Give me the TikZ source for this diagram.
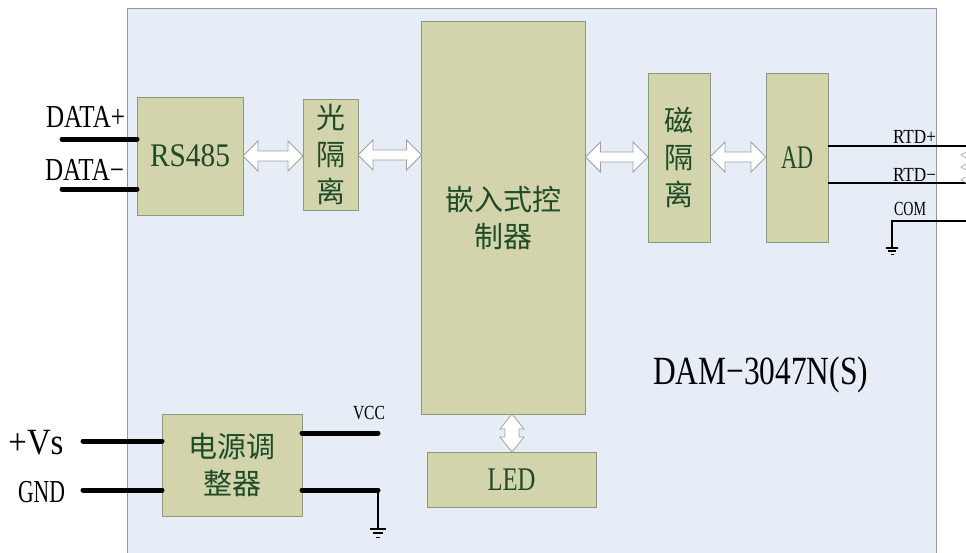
\documentclass[tikz,border=0pt]{standalone}
\usepackage{fontspec}
\usepackage{graphicx}
\setmainfont{Liberation Serif}
\newfontfamily\cjk{Noto Sans CJK SC}
\usetikzlibrary{calc}
\definecolor{bgblue}{RGB}{230,237,247}
\definecolor{boxfill}{RGB}{211,212,171}
\definecolor{boxline}{RGB}{135,155,125}
\definecolor{txtgreen}{RGB}{30,75,40}
\definecolor{framecol}{RGB}{150,150,150}
\definecolor{arrline}{RGB}{160,160,160}
\newcommand\fw[2]{\resizebox{#1pt}{\height}{#2}}
\newcommand\harrow[3]{%
  \coordinate (hs) at (#1.east |- 0,#3);
  \coordinate (he) at (#2.west |- 0,#3);
  \draw[dblarr] (hs) -- ++(15,-15) -- ++(0,10) -- ($(he)+(-15,-5)$) -- ++(0,-10) -- (he)
    -- ++(-15,15) -- ++(0,-10) -- ($(hs)+(15,5)$) -- ++(0,10) -- cycle;}
\begin{document}
\begin{tikzpicture}[x=1pt,y=-1pt,
  blk/.style={draw=boxline, fill=boxfill, line width=1pt, inner sep=0pt, outer sep=0pt, text=txtgreen, align=center},
  lat/.style={font=\fontsize{33}{36}\selectfont},
  zh/.style={font=\cjk\fontsize{29}{37}\selectfont},
  lbl/.style={inner sep=0pt, font=\fontsize{32}{36}\selectfont},
  smalllbl/.style={inner sep=0pt, font=\fontsize{20}{22}\selectfont},
  wire/.style={line width=5pt, line cap=round},
  thinwire/.style={line width=1.2pt},
  dblarr/.style={draw=arrline, fill=white, line width=0.8pt, line join=miter},
  groundsym/.pic={\draw[line width=1.6pt] (-8,0) -- (8,0);
    \draw[line width=1.3pt] (-5,4) -- (5,4);
    \draw[line width=1pt] (-2,8) -- (2,8);}]
\useasboundingbox (0,0) rectangle (966,552);
\fill[white] (0,0) rectangle (966,552);
% outer board
\fill[bgblue] (127,8) rectangle (936,560);
\draw[framecol, line width=1pt] (127,560) -- (127,8) -- (936,8) -- (936,560);
% blocks
\node[blk, lat, minimum width=106, minimum height=118] (rs) at (190,156) {\fw{80}{RS485}};
\node[blk, zh, minimum width=55, minimum height=111] (opt) at (330.5,154.5) {光\\隔\\离};
\node[blk, zh, minimum width=164, minimum height=393] (mcu) at (503.5,217.5) {嵌入式控\\制器};
\node[blk, zh, minimum width=62, minimum height=169] (mag) at (679,157.5) {磁\\隔\\离};
\node[blk, lat, minimum width=62, minimum height=169] (ad) at (797,157.5) {\fw{32}{AD}};
\node[blk, lat, minimum width=169, minimum height=55] (led) at (511.5,479.5) {\fw{48}{LED}};
\node[blk, zh, minimum width=140, minimum height=102] (pwr) at (232,465) {电源调\\整器};
% labels
\node[lbl] (ldp) at (85.5,117) {\fw{79}{DATA+}};
\node[lbl] (ldm) at (84.5,170) {\fw{79}{DATA−}};
\node[lbl, font=\fontsize{37}{40}\selectfont] (lvs) at (36,443) {\fw{55}{+Vs}};
\node[lbl] (lgnd) at (41.5,492) {\fw{47}{GND}};
\node[smalllbl] (lrp) at (914.5,137) {\fw{43}{RTD+}};
\node[smalllbl] (lrm) at (914.5,175) {\fw{43}{RTD−}};
\node[smalllbl] (lcom) at (910,209) {\fw{32}{COM}};
\node[smalllbl] (lvcc) at (369,413) {\fw{32}{VCC}};
\node[inner sep=0pt, font=\fontsize{40}{44}\selectfont] (model) at (760.5,375) {\fw{215}{DAM−3047N(S)}};
% terminals
\coordinate (dp) at (62,139);
\coordinate (dm) at (62,189);
\coordinate (vs) at (83,441);
\coordinate (gin) at (83,490);
\coordinate (vcc) at (378,433);
\coordinate (gout) at (378,490);
\coordinate (rp) at (966,146);
\coordinate (rm) at (966,183);
\coordinate (com) at (966,221);
\coordinate (comg) at (892,221);
% wires
\draw[wire] (dp) -- (dp -| rs.west);
\draw[wire] (dm) -- (dm -| rs.west);
\draw[wire] (vs) -- (vs -| pwr.west);
\draw[wire] (gin) -- (gin -| pwr.west);
\draw[wire] (vcc -| pwr.east) -- (vcc);
\draw[wire] (gout -| pwr.east) -- (gout);
\draw[line width=1.8pt] (gout) -- ++(0,39) coordinate (g1);
\pic at (g1) {groundsym};
\draw[thinwire] (rp -| ad.east) -- (rp);
\draw[thinwire] (rm -| ad.east) -- (rm);
\draw[thinwire] (com) -- (comg) -- ++(0,27) coordinate (g2);
\pic[scale=0.75] at (g2) {groundsym};
% small marks at right edge
\foreach \yy in {155,167,180} \draw[arrline, line width=0.6pt] (966,\yy-3) -- (961,\yy) -- (966,\yy+3);
% double arrows
\harrow{rs}{opt}{156}
\harrow{opt}{mcu}{155}
\harrow{mcu}{mag}{157}
\harrow{mag}{ad}{157}
\coordinate (vs1) at (mcu.south -| 512,0);
\coordinate (ve1) at (led.north -| 512,0);
\draw[dblarr] (vs1) -- ++(12,15) -- ++(-5,0) -- ($(ve1)+(7,-15)$) -- ++(5,0) -- (ve1)
  -- ++(-12,-15) -- ++(5,0) -- ($(vs1)+(-7,15)$) -- ++(-5,0) -- cycle;
\end{tikzpicture}
\end{document}
